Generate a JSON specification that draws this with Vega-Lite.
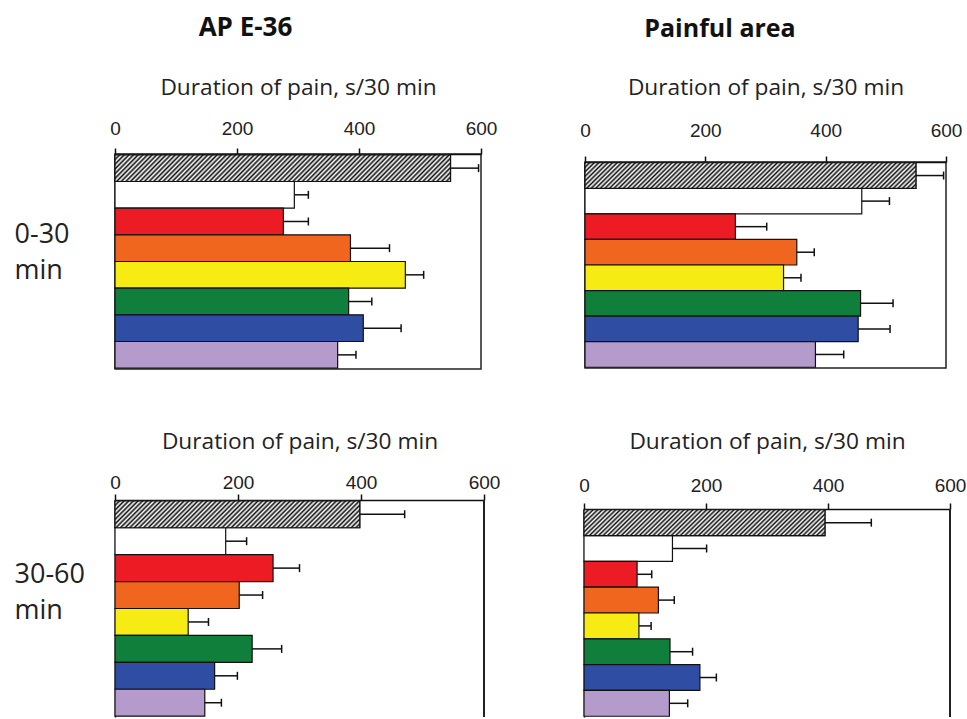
{
"$schema": "https://vega.github.io/schema/vega-lite/v6.json",
"padding": {"left": 13, "top": 15, "right": 0, "bottom": 0},
"background": "white",
"params": [
{"name": "hatchTop", "value": {"gradient": "linear", "x1": 0, "y1": 0, "x2": 1.1, "y2": 0.086, "stops": [
{"offset":0,"color":"#111"},{"offset":0.00625,"color":"#fff"},{"offset":0.0125,"color":"#111"},{"offset":0.01875,"color":"#fff"},{"offset":0.025,"color":"#111"},{"offset":0.03125,"color":"#fff"},{"offset":0.0375,"color":"#111"},{"offset":0.04375,"color":"#fff"},{"offset":0.05,"color":"#111"},{"offset":0.05625,"color":"#fff"},{"offset":0.0625,"color":"#111"},{"offset":0.06875,"color":"#fff"},{"offset":0.075,"color":"#111"},{"offset":0.08125,"color":"#fff"},{"offset":0.0875,"color":"#111"},{"offset":0.09375,"color":"#fff"},
{"offset":0.1,"color":"#111"},{"offset":0.10625,"color":"#fff"},{"offset":0.1125,"color":"#111"},{"offset":0.11875,"color":"#fff"},{"offset":0.125,"color":"#111"},{"offset":0.13125,"color":"#fff"},{"offset":0.1375,"color":"#111"},{"offset":0.14375,"color":"#fff"},{"offset":0.15,"color":"#111"},{"offset":0.15625,"color":"#fff"},{"offset":0.1625,"color":"#111"},{"offset":0.16875,"color":"#fff"},{"offset":0.175,"color":"#111"},{"offset":0.18125,"color":"#fff"},{"offset":0.1875,"color":"#111"},{"offset":0.19375,"color":"#fff"},
{"offset":0.2,"color":"#111"},{"offset":0.20625,"color":"#fff"},{"offset":0.2125,"color":"#111"},{"offset":0.21875,"color":"#fff"},{"offset":0.225,"color":"#111"},{"offset":0.23125,"color":"#fff"},{"offset":0.2375,"color":"#111"},{"offset":0.24375,"color":"#fff"},{"offset":0.25,"color":"#111"},{"offset":0.25625,"color":"#fff"},{"offset":0.2625,"color":"#111"},{"offset":0.26875,"color":"#fff"},{"offset":0.275,"color":"#111"},{"offset":0.28125,"color":"#fff"},{"offset":0.2875,"color":"#111"},{"offset":0.29375,"color":"#fff"},
{"offset":0.3,"color":"#111"},{"offset":0.30625,"color":"#fff"},{"offset":0.3125,"color":"#111"},{"offset":0.31875,"color":"#fff"},{"offset":0.325,"color":"#111"},{"offset":0.33125,"color":"#fff"},{"offset":0.3375,"color":"#111"},{"offset":0.34375,"color":"#fff"},{"offset":0.35,"color":"#111"},{"offset":0.35625,"color":"#fff"},{"offset":0.3625,"color":"#111"},{"offset":0.36875,"color":"#fff"},{"offset":0.375,"color":"#111"},{"offset":0.38125,"color":"#fff"},{"offset":0.3875,"color":"#111"},{"offset":0.39375,"color":"#fff"},
{"offset":0.4,"color":"#111"},{"offset":0.40625,"color":"#fff"},{"offset":0.4125,"color":"#111"},{"offset":0.41875,"color":"#fff"},{"offset":0.425,"color":"#111"},{"offset":0.43125,"color":"#fff"},{"offset":0.4375,"color":"#111"},{"offset":0.44375,"color":"#fff"},{"offset":0.45,"color":"#111"},{"offset":0.45625,"color":"#fff"},{"offset":0.4625,"color":"#111"},{"offset":0.46875,"color":"#fff"},{"offset":0.475,"color":"#111"},{"offset":0.48125,"color":"#fff"},{"offset":0.4875,"color":"#111"},{"offset":0.49375,"color":"#fff"},
{"offset":0.5,"color":"#111"},{"offset":0.50625,"color":"#fff"},{"offset":0.5125,"color":"#111"},{"offset":0.51875,"color":"#fff"},{"offset":0.525,"color":"#111"},{"offset":0.53125,"color":"#fff"},{"offset":0.5375,"color":"#111"},{"offset":0.54375,"color":"#fff"},{"offset":0.55,"color":"#111"},{"offset":0.55625,"color":"#fff"},{"offset":0.5625,"color":"#111"},{"offset":0.56875,"color":"#fff"},{"offset":0.575,"color":"#111"},{"offset":0.58125,"color":"#fff"},{"offset":0.5875,"color":"#111"},{"offset":0.59375,"color":"#fff"},
{"offset":0.6,"color":"#111"},{"offset":0.60625,"color":"#fff"},{"offset":0.6125,"color":"#111"},{"offset":0.61875,"color":"#fff"},{"offset":0.625,"color":"#111"},{"offset":0.63125,"color":"#fff"},{"offset":0.6375,"color":"#111"},{"offset":0.64375,"color":"#fff"},{"offset":0.65,"color":"#111"},{"offset":0.65625,"color":"#fff"},{"offset":0.6625,"color":"#111"},{"offset":0.66875,"color":"#fff"},{"offset":0.675,"color":"#111"},{"offset":0.68125,"color":"#fff"},{"offset":0.6875,"color":"#111"},{"offset":0.69375,"color":"#fff"},
{"offset":0.7,"color":"#111"},{"offset":0.70625,"color":"#fff"},{"offset":0.7125,"color":"#111"},{"offset":0.71875,"color":"#fff"},{"offset":0.725,"color":"#111"},{"offset":0.73125,"color":"#fff"},{"offset":0.7375,"color":"#111"},{"offset":0.74375,"color":"#fff"},{"offset":0.75,"color":"#111"},{"offset":0.75625,"color":"#fff"},{"offset":0.7625,"color":"#111"},{"offset":0.76875,"color":"#fff"},{"offset":0.775,"color":"#111"},{"offset":0.78125,"color":"#fff"},{"offset":0.7875,"color":"#111"},{"offset":0.79375,"color":"#fff"},
{"offset":0.8,"color":"#111"},{"offset":0.80625,"color":"#fff"},{"offset":0.8125,"color":"#111"},{"offset":0.81875,"color":"#fff"},{"offset":0.825,"color":"#111"},{"offset":0.83125,"color":"#fff"},{"offset":0.8375,"color":"#111"},{"offset":0.84375,"color":"#fff"},{"offset":0.85,"color":"#111"},{"offset":0.85625,"color":"#fff"},{"offset":0.8625,"color":"#111"},{"offset":0.86875,"color":"#fff"},{"offset":0.875,"color":"#111"},{"offset":0.88125,"color":"#fff"},{"offset":0.8875,"color":"#111"},{"offset":0.89375,"color":"#fff"},
{"offset":0.9,"color":"#111"},{"offset":0.90625,"color":"#fff"},{"offset":0.9125,"color":"#111"},{"offset":0.91875,"color":"#fff"},{"offset":0.925,"color":"#111"},{"offset":0.93125,"color":"#fff"},{"offset":0.9375,"color":"#111"},{"offset":0.94375,"color":"#fff"},{"offset":0.95,"color":"#111"},{"offset":0.95625,"color":"#fff"},{"offset":0.9625,"color":"#111"},{"offset":0.96875,"color":"#fff"},{"offset":0.975,"color":"#111"},{"offset":0.98125,"color":"#fff"},{"offset":0.9875,"color":"#111"},{"offset":0.99375,"color":"#fff"},
{"offset":1,"color":"#111"}]}},
{"name": "hatchBot", "value": {"gradient": "linear", "x1": 0, "y1": 0, "x2": 1.49, "y2": 0.163, "stops": [
{"offset":0,"color":"#111"},{"offset":0.00625,"color":"#fff"},{"offset":0.0125,"color":"#111"},{"offset":0.01875,"color":"#fff"},{"offset":0.025,"color":"#111"},{"offset":0.03125,"color":"#fff"},{"offset":0.0375,"color":"#111"},{"offset":0.04375,"color":"#fff"},{"offset":0.05,"color":"#111"},{"offset":0.05625,"color":"#fff"},{"offset":0.0625,"color":"#111"},{"offset":0.06875,"color":"#fff"},{"offset":0.075,"color":"#111"},{"offset":0.08125,"color":"#fff"},{"offset":0.0875,"color":"#111"},{"offset":0.09375,"color":"#fff"},
{"offset":0.1,"color":"#111"},{"offset":0.10625,"color":"#fff"},{"offset":0.1125,"color":"#111"},{"offset":0.11875,"color":"#fff"},{"offset":0.125,"color":"#111"},{"offset":0.13125,"color":"#fff"},{"offset":0.1375,"color":"#111"},{"offset":0.14375,"color":"#fff"},{"offset":0.15,"color":"#111"},{"offset":0.15625,"color":"#fff"},{"offset":0.1625,"color":"#111"},{"offset":0.16875,"color":"#fff"},{"offset":0.175,"color":"#111"},{"offset":0.18125,"color":"#fff"},{"offset":0.1875,"color":"#111"},{"offset":0.19375,"color":"#fff"},
{"offset":0.2,"color":"#111"},{"offset":0.20625,"color":"#fff"},{"offset":0.2125,"color":"#111"},{"offset":0.21875,"color":"#fff"},{"offset":0.225,"color":"#111"},{"offset":0.23125,"color":"#fff"},{"offset":0.2375,"color":"#111"},{"offset":0.24375,"color":"#fff"},{"offset":0.25,"color":"#111"},{"offset":0.25625,"color":"#fff"},{"offset":0.2625,"color":"#111"},{"offset":0.26875,"color":"#fff"},{"offset":0.275,"color":"#111"},{"offset":0.28125,"color":"#fff"},{"offset":0.2875,"color":"#111"},{"offset":0.29375,"color":"#fff"},
{"offset":0.3,"color":"#111"},{"offset":0.30625,"color":"#fff"},{"offset":0.3125,"color":"#111"},{"offset":0.31875,"color":"#fff"},{"offset":0.325,"color":"#111"},{"offset":0.33125,"color":"#fff"},{"offset":0.3375,"color":"#111"},{"offset":0.34375,"color":"#fff"},{"offset":0.35,"color":"#111"},{"offset":0.35625,"color":"#fff"},{"offset":0.3625,"color":"#111"},{"offset":0.36875,"color":"#fff"},{"offset":0.375,"color":"#111"},{"offset":0.38125,"color":"#fff"},{"offset":0.3875,"color":"#111"},{"offset":0.39375,"color":"#fff"},
{"offset":0.4,"color":"#111"},{"offset":0.40625,"color":"#fff"},{"offset":0.4125,"color":"#111"},{"offset":0.41875,"color":"#fff"},{"offset":0.425,"color":"#111"},{"offset":0.43125,"color":"#fff"},{"offset":0.4375,"color":"#111"},{"offset":0.44375,"color":"#fff"},{"offset":0.45,"color":"#111"},{"offset":0.45625,"color":"#fff"},{"offset":0.4625,"color":"#111"},{"offset":0.46875,"color":"#fff"},{"offset":0.475,"color":"#111"},{"offset":0.48125,"color":"#fff"},{"offset":0.4875,"color":"#111"},{"offset":0.49375,"color":"#fff"},
{"offset":0.5,"color":"#111"},{"offset":0.50625,"color":"#fff"},{"offset":0.5125,"color":"#111"},{"offset":0.51875,"color":"#fff"},{"offset":0.525,"color":"#111"},{"offset":0.53125,"color":"#fff"},{"offset":0.5375,"color":"#111"},{"offset":0.54375,"color":"#fff"},{"offset":0.55,"color":"#111"},{"offset":0.55625,"color":"#fff"},{"offset":0.5625,"color":"#111"},{"offset":0.56875,"color":"#fff"},{"offset":0.575,"color":"#111"},{"offset":0.58125,"color":"#fff"},{"offset":0.5875,"color":"#111"},{"offset":0.59375,"color":"#fff"},
{"offset":0.6,"color":"#111"},{"offset":0.60625,"color":"#fff"},{"offset":0.6125,"color":"#111"},{"offset":0.61875,"color":"#fff"},{"offset":0.625,"color":"#111"},{"offset":0.63125,"color":"#fff"},{"offset":0.6375,"color":"#111"},{"offset":0.64375,"color":"#fff"},{"offset":0.65,"color":"#111"},{"offset":0.65625,"color":"#fff"},{"offset":0.6625,"color":"#111"},{"offset":0.66875,"color":"#fff"},{"offset":0.675,"color":"#111"},{"offset":0.68125,"color":"#fff"},{"offset":0.6875,"color":"#111"},{"offset":0.69375,"color":"#fff"},
{"offset":0.7,"color":"#111"},{"offset":0.70625,"color":"#fff"},{"offset":0.7125,"color":"#111"},{"offset":0.71875,"color":"#fff"},{"offset":0.725,"color":"#111"},{"offset":0.73125,"color":"#fff"},{"offset":0.7375,"color":"#111"},{"offset":0.74375,"color":"#fff"},{"offset":0.75,"color":"#111"},{"offset":0.75625,"color":"#fff"},{"offset":0.7625,"color":"#111"},{"offset":0.76875,"color":"#fff"},{"offset":0.775,"color":"#111"},{"offset":0.78125,"color":"#fff"},{"offset":0.7875,"color":"#111"},{"offset":0.79375,"color":"#fff"},
{"offset":0.8,"color":"#111"}]}}
],
"data": {"values": [
{"panel":"TL","group":"hatched","value":550,"err":596},
{"panel":"TL","group":"white","value":294,"err":317},
{"panel":"TL","group":"red","value":276,"err":317},
{"panel":"TL","group":"orange","value":386,"err":450},
{"panel":"TL","group":"yellow","value":476,"err":506},
{"panel":"TL","group":"green","value":383,"err":421},
{"panel":"TL","group":"blue","value":407,"err":469},
{"panel":"TL","group":"violet","value":365,"err":395},
{"panel":"TR","group":"hatched","value":550,"err":596},
{"panel":"TR","group":"white","value":460,"err":506},
{"panel":"TR","group":"red","value":250,"err":302},
{"panel":"TR","group":"orange","value":352,"err":381},
{"panel":"TR","group":"yellow","value":330,"err":359},
{"panel":"TR","group":"green","value":458,"err":512},
{"panel":"TR","group":"blue","value":454,"err":507},
{"panel":"TR","group":"violet","value":383,"err":430},
{"panel":"BL","group":"hatched","value":398,"err":471},
{"panel":"BL","group":"white","value":180,"err":214},
{"panel":"BL","group":"red","value":257,"err":300},
{"panel":"BL","group":"orange","value":202,"err":240},
{"panel":"BL","group":"yellow","value":119,"err":152},
{"panel":"BL","group":"green","value":223,"err":271},
{"panel":"BL","group":"blue","value":162,"err":199},
{"panel":"BL","group":"violet","value":146,"err":173},
{"panel":"BR","group":"hatched","value":395,"err":471},
{"panel":"BR","group":"white","value":145,"err":201},
{"panel":"BR","group":"red","value":87,"err":111},
{"panel":"BR","group":"orange","value":122,"err":148},
{"panel":"BR","group":"yellow","value":90,"err":110},
{"panel":"BR","group":"green","value":141,"err":178},
{"panel":"BR","group":"blue","value":190,"err":217},
{"panel":"BR","group":"violet","value":140,"err":170}
]},
"columns": 2,
"align": "none",
"spacing": {"row": 2, "column": 78},
"concat": [
{"width": 366, "height": 1,
 "data": {"values": []},
 "mark": "point", "encoding": {},
 "title": {"text": "AP E-36", "font": "Open Sans", "fontSize": 26, "fontWeight": "bold", "color": "#111", "anchor": "middle", "frame": "group", "dx": -52.5, "baseline": "alphabetic", "offset": 10}},
{"width": 361, "height": 1,
 "data": {"values": []},
 "mark": "point", "encoding": {},
 "title": {"text": "Painful area", "font": "Open Sans", "fontSize": 25, "fontWeight": "bold", "color": "#111", "anchor": "middle", "frame": "group", "dx": -38.5, "baseline": "alphabetic", "offset": 10}},
{"width": 366, "height": 215,
 "view": {"stroke": "#222", "strokeWidth": 1.5},
 "transform": [{"filter": "datum.panel === 'TL'"}],
 "layer": [
  {"mark": {"type": "bar", "stroke": "#111", "strokeWidth": 1.2},
   "encoding": {
    "y": {"field": "group", "type": "nominal", "sort": ["hatched","white","red","orange","yellow","green","blue","violet"], "scale": {"paddingInner": 0, "paddingOuter": 0.03},
          "axis": {"title": ["0-30","min"], "titleAngle": 0, "titleAlign": "left", "titleBaseline": "alphabetic", "titleX": -101, "titleY": 88, "titleFont": "Open Sans", "titleFontSize": 27, "titleFontWeight": "normal", "titleColor": "#222", "titleLineHeight": 36, "labels": false, "ticks": false, "domain": false}},
    "x": {"field": "value", "type": "quantitative", "scale": {"domain": [0, 600], "nice": false},
          "axis": {"orient": "top", "values": [0,200,400,600], "title": "Duration of pain, s/30 min", "labelPadding": 14, "titleY": -60}},
    "color": {"field": "group", "type": "nominal", "scale": {"domain": ["hatched","white","red","orange","yellow","green","blue","violet"], "range": ["#777777","#ffffff","#ED1C24","#F0661F","#F6EC14","#107F3B","#2E4DA3","#B59BCB"]}, "legend": null}
   }},
  {"transform": [{"filter": "datum.group === 'hatched'"}],
   "mark": {"type": "bar", "fill": {"expr": "hatchTop"}, "stroke": "#111", "strokeWidth": 1.2},
   "encoding": {
    "y": {"field": "group", "type": "nominal", "sort": ["hatched","white","red","orange","yellow","green","blue","violet"]},
    "x": {"field": "value", "type": "quantitative"}}},
  {"mark": {"type": "rule", "color": "#111", "strokeWidth": 1.5},
   "encoding": {
    "y": {"field": "group", "type": "nominal", "sort": ["hatched","white","red","orange","yellow","green","blue","violet"]},
    "x": {"field": "value", "type": "quantitative"}, "x2": {"field": "err"}}},
  {"mark": {"type": "tick", "color": "#111", "thickness": 1.5, "size": 8, "opacity": 1},
   "encoding": {
    "y": {"field": "group", "type": "nominal", "sort": ["hatched","white","red","orange","yellow","green","blue","violet"]},
    "x": {"field": "err", "type": "quantitative"}}}
 ]},
{"width": 361, "height": 206,
 "view": {"stroke": "#222", "strokeWidth": 1.5},
 "transform": [{"filter": "datum.panel === 'TR'"}],
 "layer": [
  {"mark": {"type": "bar", "stroke": "#111", "strokeWidth": 1.2},
   "encoding": {
    "y": {"field": "group", "type": "nominal", "sort": ["hatched","white","red","orange","yellow","green","blue","violet"], "scale": {"paddingInner": 0, "paddingOuter": 0.03}, "axis": null},
    "x": {"field": "value", "type": "quantitative", "scale": {"domain": [0, 600], "nice": false},
          "axis": {"orient": "top", "values": [0,200,400,600], "title": "Duration of pain, s/30 min", "labelPadding": 20, "titleY": -68}},
    "color": {"field": "group", "type": "nominal", "scale": {"domain": ["hatched","white","red","orange","yellow","green","blue","violet"], "range": ["#777777","#ffffff","#ED1C24","#F0661F","#F6EC14","#107F3B","#2E4DA3","#B59BCB"]}, "legend": null}
   }},
  {"transform": [{"filter": "datum.group === 'hatched'"}],
   "mark": {"type": "bar", "fill": {"expr": "hatchTop"}, "stroke": "#111", "strokeWidth": 1.2},
   "encoding": {
    "y": {"field": "group", "type": "nominal", "sort": ["hatched","white","red","orange","yellow","green","blue","violet"], "axis": null},
    "x": {"field": "value", "type": "quantitative"}}},
  {"mark": {"type": "rule", "color": "#111", "strokeWidth": 1.5},
   "encoding": {
    "y": {"field": "group", "type": "nominal", "sort": ["hatched","white","red","orange","yellow","green","blue","violet"], "axis": null},
    "x": {"field": "value", "type": "quantitative"}, "x2": {"field": "err"}}},
  {"mark": {"type": "tick", "color": "#111", "thickness": 1.5, "size": 8, "opacity": 1},
   "encoding": {
    "y": {"field": "group", "type": "nominal", "sort": ["hatched","white","red","orange","yellow","green","blue","violet"], "axis": null},
    "x": {"field": "err", "type": "quantitative"}}}
 ]},
{"width": 369, "height": 217,
 "title": {"text": " ", "fontSize": 10, "baseline": "bottom", "offset": 38},
 "transform": [{"filter": "datum.panel === 'BL'"}],
 "layer": [
  {"mark": {"type": "bar", "stroke": "#111", "strokeWidth": 1.2},
   "encoding": {
    "y": {"field": "group", "type": "nominal", "sort": ["hatched","white","red","orange","yellow","green","blue","violet"], "scale": {"paddingInner": 0, "paddingOuter": 0.03},
          "axis": {"title": ["30-60","min"], "titleAngle": 0, "titleAlign": "left", "titleBaseline": "alphabetic", "titleX": -101, "titleY": 82, "titleFont": "Open Sans", "titleFontSize": 27, "titleFontWeight": "normal", "titleColor": "#222", "titleLineHeight": 36, "labels": false, "ticks": false, "domain": true}},
    "x": {"field": "value", "type": "quantitative", "scale": {"domain": [0, 600], "nice": false},
          "axis": {"orient": "top", "values": [0,200,400,600], "title": "Duration of pain, s/30 min", "labelPadding": 6, "titleY": -52}},
    "color": {"field": "group", "type": "nominal", "scale": {"domain": ["hatched","white","red","orange","yellow","green","blue","violet"], "range": ["#777777","#ffffff","#ED1C24","#F0661F","#F6EC14","#107F3B","#2E4DA3","#B59BCB"]}, "legend": null}
   }},
  {"transform": [{"filter": "datum.group === 'hatched'"}],
   "mark": {"type": "bar", "fill": {"expr": "hatchBot"}, "stroke": "#111", "strokeWidth": 1.2},
   "encoding": {
    "y": {"field": "group", "type": "nominal", "sort": ["hatched","white","red","orange","yellow","green","blue","violet"]},
    "x": {"field": "value", "type": "quantitative"}}},
  {"mark": {"type": "rule", "color": "#111", "strokeWidth": 1.5},
   "encoding": {
    "y": {"field": "group", "type": "nominal", "sort": ["hatched","white","red","orange","yellow","green","blue","violet"]},
    "x": {"field": "value", "type": "quantitative"}, "x2": {"field": "err"}}},
  {"mark": {"type": "tick", "color": "#111", "thickness": 1.5, "size": 8, "opacity": 1},
   "encoding": {
    "y": {"field": "group", "type": "nominal", "sort": ["hatched","white","red","orange","yellow","green","blue","violet"]},
    "x": {"field": "err", "type": "quantitative"}}},
  {"mark": {"type": "rule", "color": "#222", "strokeWidth": 1.5},
   "encoding": {"x": {"datum": 600}}}
 ]},
{"width": 366, "height": 208,
 "title": {"text": " ", "fontSize": 10, "baseline": "bottom", "offset": 30},
 "transform": [{"filter": "datum.panel === 'BR'"}],
 "layer": [
  {"mark": {"type": "bar", "stroke": "#111", "strokeWidth": 1.2},
   "encoding": {
    "y": {"field": "group", "type": "nominal", "sort": ["hatched","white","red","orange","yellow","green","blue","violet"], "scale": {"paddingInner": 0, "paddingOuter": 0.03},
          "axis": {"title": null, "labels": false, "ticks": false, "domain": true}},
    "x": {"field": "value", "type": "quantitative", "scale": {"domain": [0, 600], "nice": false},
          "axis": {"orient": "top", "values": [0,200,400,600], "title": "Duration of pain, s/30 min", "labelPadding": 12, "titleY": -61}},
    "color": {"field": "group", "type": "nominal", "scale": {"domain": ["hatched","white","red","orange","yellow","green","blue","violet"], "range": ["#777777","#ffffff","#ED1C24","#F0661F","#F6EC14","#107F3B","#2E4DA3","#B59BCB"]}, "legend": null}
   }},
  {"transform": [{"filter": "datum.group === 'hatched'"}],
   "mark": {"type": "bar", "fill": {"expr": "hatchBot"}, "stroke": "#111", "strokeWidth": 1.2},
   "encoding": {
    "y": {"field": "group", "type": "nominal", "sort": ["hatched","white","red","orange","yellow","green","blue","violet"]},
    "x": {"field": "value", "type": "quantitative"}}},
  {"mark": {"type": "rule", "color": "#111", "strokeWidth": 1.5},
   "encoding": {
    "y": {"field": "group", "type": "nominal", "sort": ["hatched","white","red","orange","yellow","green","blue","violet"]},
    "x": {"field": "value", "type": "quantitative"}, "x2": {"field": "err"}}},
  {"mark": {"type": "tick", "color": "#111", "thickness": 1.5, "size": 8, "opacity": 1},
   "encoding": {
    "y": {"field": "group", "type": "nominal", "sort": ["hatched","white","red","orange","yellow","green","blue","violet"]},
    "x": {"field": "err", "type": "quantitative"}}},
  {"mark": {"type": "rule", "color": "#222", "strokeWidth": 1.5},
   "encoding": {"x": {"datum": 600}}}
 ]}
],
"config": {
 "view": {"stroke": null},
 "axis": {"grid": false, "domainColor": "#111", "domainWidth": 1.5, "tickColor": "#111", "tickWidth": 1.5, "tickSize": 6,
          "labelFont": "Liberation Sans", "labelFontSize": 19, "labelColor": "#222", "labelBaseline": "alphabetic", "labelFlush": false, "labelOverlap": false,
          "titleFont": "Open Sans", "titleFontSize": 22.7, "titleFontWeight": "normal", "titleColor": "#222", "titleBaseline": "alphabetic"}
}
}
